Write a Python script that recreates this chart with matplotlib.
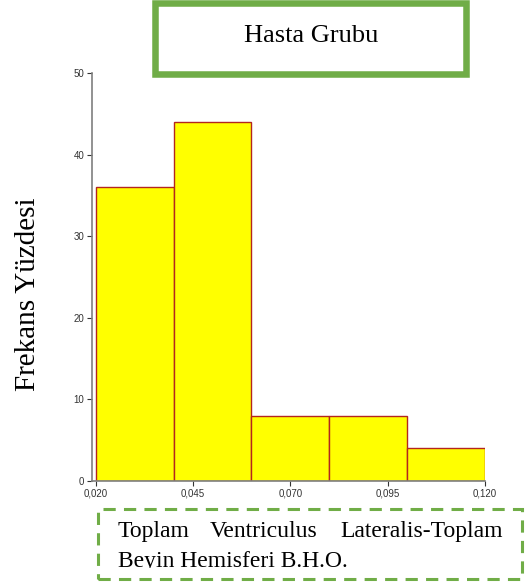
import matplotlib
matplotlib.use("Agg")
import matplotlib.pyplot as plt
from matplotlib.patches import Rectangle
from matplotlib.transforms import Bbox, TransformedBbox

bin_edges = [0.020, 0.040, 0.060, 0.080, 0.100, 0.120]
freq = [36, 44, 8, 8, 4]
xtick_vals = [0.020, 0.045, 0.070, 0.095, 0.120]
xtick_labels = ["0,020", "0,045", "0,070", "0,095", "0,120"]
ytick_vals = [0, 10, 20, 30, 40, 50]
ytick_labels = ["0", "10", "20", "30", "40", "50"]
title = "Hasta Grubu"
ylabel = "Frekans Yüzdesi"
xlabel_words = ["Toplam", "Ventriculus", "Lateralis-Toplam"]
xlabel_line2 = "Beyin Hemisferi B.H.O."

W, H = 528, 585
fig = plt.figure(figsize=(W / 100, H / 100), dpi=100)
fig.patch.set_facecolor("white")

def fx(px):
    return px / W

def fy(py):
    return 1 - py / H

ax = fig.add_axes([fx(92), fy(481), fx(485 - 92), (481 - 73) / H])
widths = [bin_edges[i + 1] - bin_edges[i] for i in range(len(freq))]
ax.bar(bin_edges[:-1], freq, width=widths, align="edge", color="#ffff00",
       edgecolor="#b3261e", linewidth=1.0, zorder=2)
ax.set_xlim(0.01905, 0.120)
ax.set_ylim(0, 50)
ax.set_xticks(xtick_vals)
ax.set_xticklabels(xtick_labels)
ax.set_yticks(ytick_vals)
ax.set_yticklabels(ytick_labels)
for s in ["top", "right"]:
    ax.spines[s].set_visible(False)
for s in ["left", "bottom"]:
    ax.spines[s].set_color("#7f7f7f")
    ax.spines[s].set_linewidth(1.2)
ax.tick_params(axis="both", direction="out", colors="#333333", labelsize=7,
               width=0.8, length=3.5, pad=2)
for lab in ax.get_xticklabels() + ax.get_yticklabels():
    lab.set_family("Liberation Sans")
    lab.set_color("#333333")

# Title box
fig.patches.append(Rectangle((fx(154.5), fy(74)), fx(465.5 - 154.5), (74 - 3.5) / H,
                             transform=fig.transFigure, facecolor="white",
                             edgecolor="#70ad47", linewidth=4.7, zorder=1))
fig.text(fx(311), fy(42), title, ha="center", va="baseline",
         fontsize=19, family="Liberation Serif", color="black")

# Y label
fig.text(fx(28), fy(294.5), ylabel, rotation=90, ha="center", va="center",
         fontsize=21, family="Liberation Serif", color="black")

# X label dashed box
fig.patches.append(Rectangle((fx(97.5), fy(579)), fx(522 - 97.5), (579 - 509) / H,
                             transform=fig.transFigure, facecolor="none",
                             edgecolor="#70ad47", linewidth=2.2,
                             linestyle=(0, (4, 2.7)), zorder=1))
tkw = dict(va="baseline", fontsize=17, family="Liberation Serif", color="black")
fig.text(fx(118), fy(537), xlabel_words[0], ha="left", **tkw)
fig.text(fx(264), fy(537), xlabel_words[1], ha="center", **tkw)
fig.text(fx(503), fy(537), xlabel_words[2], ha="right", **tkw)
t2 = fig.text(fx(118), fy(567), xlabel_line2, ha="left", **tkw)
t2.set_clip_box(TransformedBbox(Bbox([[0, fy(568)], [1, 1]]), fig.transFigure))
t2.set_clip_on(True)

fig.savefig("out.png", dpi=100, facecolor="white")
